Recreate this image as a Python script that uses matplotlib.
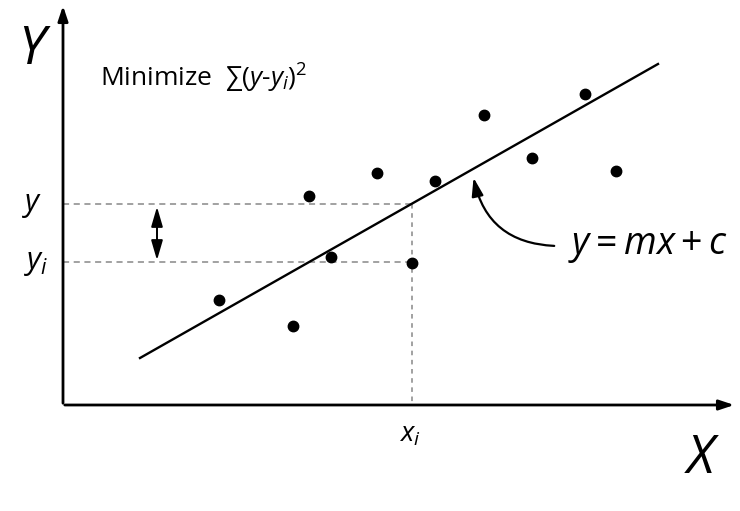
import matplotlib
matplotlib.use("Agg")
import matplotlib.pyplot as plt

# Least-squares diagram, coordinates (pixel space, y down)
pts_x = [219, 293, 309, 331, 377, 412, 435, 484, 532, 585, 616]
pts_y = [300, 326, 196, 257, 173, 263, 181, 115, 158, 94, 171]
fit_x = [140, 658]
fit_y = [358, 64]
origin = (63, 405)
xi = 412
y_fit = 204
y_obs = 263

plt.rcParams['mathtext.fontset'] = 'custom'
plt.rcParams['mathtext.rm'] = 'Open Sans'
plt.rcParams['mathtext.it'] = 'Open Sans:italic'
plt.rcParams['font.family'] = ['Open Sans', 'DejaVu Sans']

fig = plt.figure(figsize=(7.4, 5.11), dpi=100)
ax = fig.add_axes([0, 0, 1, 1])
ax.set_xlim(0, 740)
ax.set_ylim(511, 0)
ax.axis('off')

# axes with arrows
ax.annotate('', xy=(origin[0], 3), xytext=(origin[0], origin[1] + 1),
            arrowprops=dict(arrowstyle='-|>,head_length=0.9,head_width=0.3', lw=2, color='black'))
ax.annotate('', xy=(737, origin[1]), xytext=(origin[0] - 1, origin[1]),
            arrowprops=dict(arrowstyle='-|>,head_length=0.9,head_width=0.3', lw=2, color='black'))

# dashed guides
ax.plot([origin[0], xi], [y_fit, y_fit], ls=(0, (4, 3)), color='#888888', lw=1.1)
ax.plot([origin[0], xi], [y_obs - 1, y_obs - 1], ls=(0, (4, 3)), color='#888888', lw=1.1)
ax.plot([xi, xi], [y_fit, origin[1]], ls=(0, (3, 3)), color='#888888', lw=1.1)

# fit line and points
ax.plot(fit_x, fit_y, color='black', lw=1.7)
ax.plot(pts_x, pts_y, 'o', color='black', ms=7.5)

# residual double arrow
ax.annotate('', xy=(157, y_fit), xytext=(157, y_obs),
            arrowprops=dict(arrowstyle='<|-|>,head_length=1.2,head_width=0.35', lw=1.4, color='black'))

# curved arrow to fit line
ax.annotate('', xy=(473, 175), xytext=(557, 246),
            arrowprops=dict(arrowstyle='-|>,head_length=1.1,head_width=0.35', lw=1.6, color='black',
                            connectionstyle='arc3,rad=-0.4'))

# labels
ax.text(35, 50, '$Y$', fontsize=38, ha='center', va='center')
ax.text(702, 459, '$X$', fontsize=38, ha='center', va='center')
ax.text(32, 205, '$y$', fontsize=22, ha='center', va='center')
ax.text(36, 263, '$y_i$', fontsize=22, ha='center', va='center')
ax.text(410, 435, '$x_i$', fontsize=20, ha='center', va='center')
ax.text(568, 246, '$y = mx + c$', fontsize=27, ha='left', va='center')
ax.text(100, 78, 'Minimize  $\\sum(y$-$y_i)^2$', fontsize=19, ha='left', va='center')

fig.savefig('out.png', dpi=100)
